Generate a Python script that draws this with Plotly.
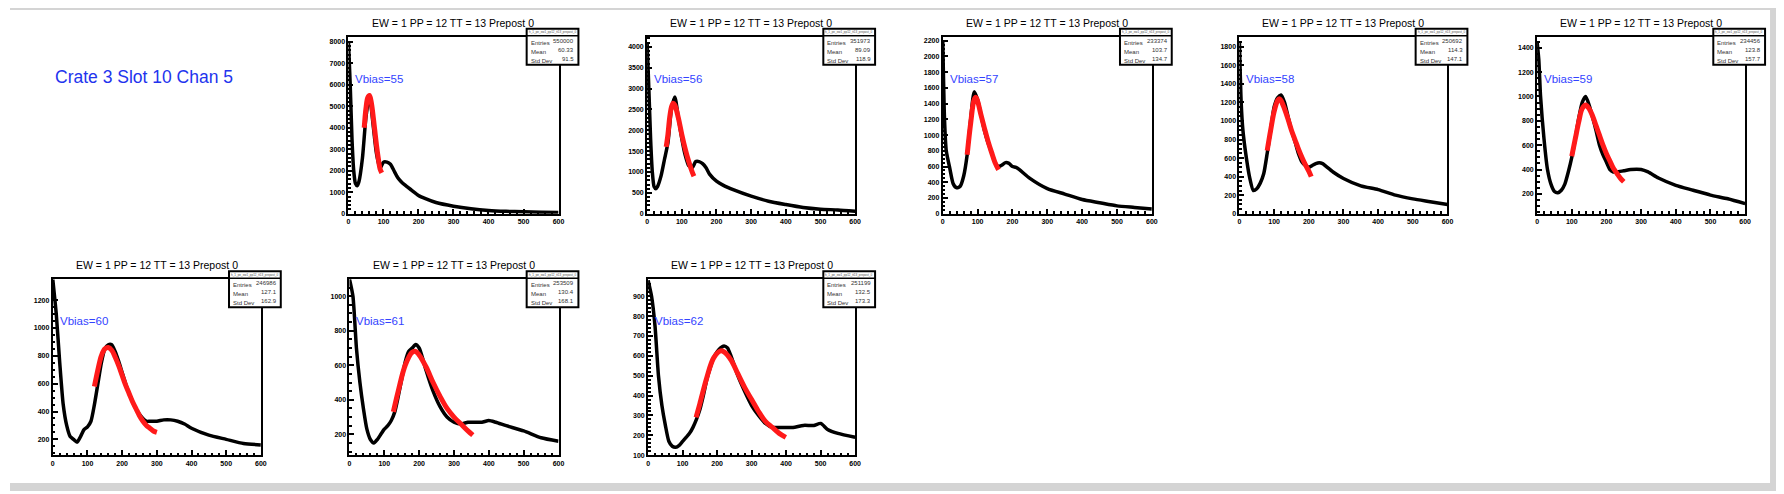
import plotly.graph_objects as go

W, H = 1784, 494
OFF = 8  # page body margin of the html

vbias = [55, 56, 57, 58, 59, 60, 61, 62]
entries = ["550000", "351973", "233374", "250692", "234456", "246986", "253509", "251199"]
means = ["60.33", "89.09", "103.7", "114.3", "123.8", "127.1", "130.4", "132.5"]
stddevs = ["91.5", "118.9", "134.7", "147.1", "157.7", "162.9", "168.1", "173.3"]

# histogram shapes
hx = [
    [0, 5, 10, 15, 20, 25, 30, 40, 50, 60, 70, 80, 90, 100, 110, 120, 130, 140, 150, 160, 180, 200, 220, 250, 300, 350, 400, 450, 500, 550, 600],
    [0, 5, 10, 15, 20, 25, 30, 40, 50, 60, 70, 80, 90, 100, 110, 120, 130, 140, 150, 160, 170, 180, 200, 220, 250, 300, 350, 400, 450, 500, 550, 600],
    [0, 5, 10, 20, 30, 40, 50, 60, 70, 80, 90, 100, 110, 120, 130, 140, 150, 160, 170, 180, 190, 200, 210, 220, 250, 300, 350, 400, 450, 500, 550, 600],
    [0, 5, 10, 20, 30, 40, 50, 60, 70, 80, 90, 100, 110, 120, 130, 140, 150, 160, 170, 180, 190, 200, 210, 220, 230, 240, 250, 270, 300, 350, 400, 450, 500, 550, 600],
    [0, 5, 10, 20, 30, 40, 50, 60, 70, 80, 90, 100, 110, 120, 130, 140, 150, 160, 170, 180, 190, 200, 210, 220, 230, 250, 270, 300, 320, 350, 400, 450, 500, 550, 600],
    [0, 10, 20, 30, 40, 50, 60, 70, 80, 90, 100, 110, 120, 130, 140, 150, 160, 170, 180, 190, 200, 210, 220, 230, 240, 250, 260, 270, 280, 300, 320, 340, 360, 380, 400, 450, 500, 550, 600],
    [0, 10, 20, 30, 40, 50, 60, 70, 80, 90, 100, 110, 120, 130, 140, 150, 160, 170, 180, 190, 200, 210, 220, 240, 260, 280, 300, 320, 340, 360, 380, 400, 420, 450, 500, 550, 600],
    [0, 10, 20, 30, 40, 50, 60, 70, 80, 90, 100, 110, 120, 130, 140, 150, 160, 170, 180, 190, 200, 210, 220, 230, 240, 250, 260, 280, 300, 320, 340, 360, 380, 400, 420, 450, 480, 500, 520, 550, 600],
]
hy = [
    [8000, 6000, 3500, 2000, 1400, 1300, 1500, 2600, 4500, 5500, 4200, 2800, 2100, 2400, 2400, 2300, 2000, 1700, 1500, 1350, 1100, 850, 700, 520, 350, 230, 150, 110, 90, 70, 60],
    [4100, 3000, 1800, 1000, 650, 600, 650, 900, 1300, 1700, 2500, 2800, 2300, 1800, 1400, 1150, 1100, 1250, 1250, 1200, 1100, 950, 780, 680, 570, 420, 300, 220, 150, 110, 90, 60],
    [2200, 1200, 800, 580, 380, 330, 350, 480, 750, 1200, 1550, 1450, 1250, 1050, 900, 780, 650, 600, 620, 650, 640, 600, 590, 560, 450, 320, 250, 180, 140, 100, 80, 60],
    [1850, 1200, 900, 600, 380, 250, 270, 330, 430, 650, 900, 1150, 1250, 1280, 1200, 1050, 900, 780, 650, 560, 520, 500, 520, 540, 550, 540, 510, 450, 380, 300, 260, 200, 160, 130, 100],
    [1450, 1300, 1000, 650, 400, 280, 220, 210, 230, 280, 380, 500, 650, 820, 950, 1000, 930, 830, 720, 600, 520, 460, 400, 380, 380, 390, 400, 400, 380, 330, 270, 230, 190, 160, 120],
    [1350, 1100, 750, 450, 300, 220, 200, 180, 220, 270, 290, 330, 450, 600, 750, 850, 880, 880, 830, 760, 680, 600, 530, 470, 420, 380, 350, 330, 330, 330, 340, 340, 330, 310, 280, 230, 200, 170, 160],
    [1100, 1000, 700, 500, 350, 230, 170, 150, 170, 200, 230, 250, 280, 330, 420, 520, 620, 680, 700, 720, 700, 640, 570, 450, 360, 300, 270, 260, 270, 270, 270, 280, 270, 250, 220, 180, 160],
    [980, 900, 750, 500, 350, 250, 170, 145, 140, 150, 170, 190, 210, 240, 280, 330, 400, 480, 540, 590, 620, 640, 650, 640, 600, 550, 500, 420, 350, 300, 260, 240, 240, 240, 240, 250, 250, 260, 230, 210, 190],
]
# fitted peaks (red)
fx = [
    [45, 50, 55, 60, 65, 70, 75, 80, 85, 90, 95],
    [55, 60, 65, 70, 75, 80, 90, 100, 110, 120, 130, 135],
    [70, 80, 90, 95, 100, 110, 120, 130, 140, 150, 160],
    [80, 90, 100, 110, 115, 120, 130, 140, 150, 160, 170, 180, 190, 200, 207],
    [100, 110, 120, 130, 140, 150, 160, 170, 180, 190, 200, 210, 220, 230, 240, 250],
    [120, 130, 140, 150, 160, 170, 180, 190, 200, 210, 220, 230, 240, 250, 260, 270, 280, 290, 300],
    [126, 140, 160, 180, 190, 200, 220, 240, 260, 280, 300, 320, 340, 354],
    [139, 150, 170, 190, 210, 220, 240, 260, 280, 300, 320, 340, 360, 380, 399],
]
fy = [
    [4000, 4900, 5400, 5500, 5200, 4600, 3900, 3200, 2600, 2100, 1900],
    [1600, 1900, 2300, 2550, 2650, 2600, 2300, 1900, 1550, 1250, 1000, 900],
    [750, 1150, 1450, 1480, 1430, 1250, 1080, 920, 780, 650, 560],
    [680, 900, 1100, 1220, 1240, 1220, 1130, 1020, 900, 800, 700, 610, 530, 460, 400],
    [510, 650, 790, 900, 930, 900, 840, 760, 680, 600, 530, 470, 410, 370, 330, 300],
    [580, 700, 800, 850, 860, 840, 790, 730, 660, 590, 530, 470, 420, 370, 330, 300, 280, 260, 250],
    [330, 450, 600, 675, 680, 660, 590, 500, 420, 350, 300, 260, 220, 195],
    [290, 360, 490, 590, 625, 620, 580, 510, 440, 380, 320, 270, 240, 210, 190],
]
yranges = [[0, 8230], [0, 4240], [0, 2250], [0, 1907], [37, 1490], [86, 1350], [79, 1098], [100, 985]]
ydticks = [1000, 500, 200, 200, 200, 200, 200, 100]

# plot boxes in screen pixels: x0, x1, ytop, ybottom
boxes = [
    (348, 559, 37, 215), (648, 857, 37, 215), (945, 1155, 37, 215), (1243, 1452, 37, 215),
    (1542, 1751, 37, 215), (51, 260, 281, 458), (349, 559, 281, 458), (649, 857, 281, 458),
]

FW, FH = W - OFF, H - OFF
fig = go.Figure()
layout = dict(width=FW, height=FH, autosize=False, margin=dict(l=0, r=0, t=0, b=0),
              paper_bgcolor="white", plot_bgcolor="white", showlegend=False,
              font=dict(family="Liberation Sans, Arial", color="black"))
ann = []
shapes = []

def px(x):
    return (x - OFF) / FW

def py(y):
    return 1 - (y - OFF) / FH

def label(text, x, y, xanchor="center", **font):
    ann.append(dict(text=text, x=px(x), y=py(y), xref="paper", yref="paper",
                    xanchor=xanchor, yanchor="middle", showarrow=False, font=font))

for i in range(8):
    n = i + 1
    xa, ya = "x" if n == 1 else f"x{n}", "y" if n == 1 else f"y{n}"
    x0, x1, yt, yb = boxes[i]
    axstyle = dict(showgrid=False, zeroline=False, showline=True, mirror=True,
                   linecolor="black", linewidth=2, ticks="inside", ticklen=5,
                   tickwidth=1.5, tickcolor="black",
                   tickfont=dict(size=7, family="Liberation Sans", color="black", weight="bold"),
                   minor=dict(ticks="inside", ticklen=2.5, tickcolor="black", nticks=5))
    layout["xaxis" if n == 1 else f"xaxis{n}"] = dict(
        axstyle, domain=[px(x0), px(x1)], range=[0, 600], dtick=100,
        anchor=ya, fixedrange=True)
    layout["yaxis" if n == 1 else f"yaxis{n}"] = dict(
        axstyle, domain=[py(yb), py(yt)], range=yranges[i], dtick=ydticks[i],
        anchor=xa, fixedrange=True)
    fig.add_trace(go.Scatter(x=hx[i], y=hy[i], mode="lines", xaxis=xa, yaxis=ya,
                             line=dict(color="black", width=3.5, shape="spline", smoothing=0.6)))
    fig.add_trace(go.Scatter(x=fx[i], y=fy[i], mode="lines", xaxis=xa, yaxis=ya,
                             line=dict(color="#ff1a1a", width=5, shape="spline")))
    label("EW = 1 PP = 12 TT = 13 Prepost 0", (x0 + x1) / 2, yt - 14, size=10.5)
    label(f"Vbias={vbias[i]}", x0 + 5, yt + 42, xanchor="left", size=11.5, color="#3344ff")
    # stats box
    bx0, bx1 = x1 - 32, x1 + 20
    by0 = yt - 8
    by1 = by0 + 36
    shapes.append(dict(type="rect", xref="paper", yref="paper", x0=px(bx0), x1=px(bx1),
                       y0=py(by1), y1=py(by0), line=dict(color="black", width=2),
                       fillcolor="white", layer="above"))
    shapes.append(dict(type="line", xref="paper", yref="paper", x0=px(bx0), x1=px(bx1),
                       y0=py(by0 + 7), y1=py(by0 + 7), line=dict(color="black", width=1.5),
                       layer="above"))
    label("h_1_pe_ew1_pp12_tt13_prepost_0", (bx0 + bx1) / 2, by0 + 3.5, size=3, color="#555")
    for j, (lab, val) in enumerate([("Entries", entries[i]), ("Mean", means[i]), ("Std Dev", stddevs[i])]):
        yy = by0 + 13 + j * 9
        label(lab, bx0 + 2, yy + 1, xanchor="left", size=6, color="#333")
        label(val, bx1 - 2, yy - 1, xanchor="right", size=6, color="#333")

label("Crate 3 Slot 10 Chan 5", 51, 77, xanchor="left", size=17.5, color="#2233ee")

# gray page frame (top, right, bottom strips that fall inside the figure)
for r in [(OFF, OFF, W, 10), (W - 8, OFF, W, H), (OFF, H - 8, W, H)]:
    shapes.append(dict(type="rect", xref="paper", yref="paper", x0=px(r[0]), x1=px(r[2]),
                       y0=py(r[3]), y1=py(r[1]), line=dict(width=0), fillcolor="#d4d4d4"))

layout["annotations"] = ann
layout["shapes"] = shapes
fig.update_layout(**layout)
fig.write_html("out.html")
